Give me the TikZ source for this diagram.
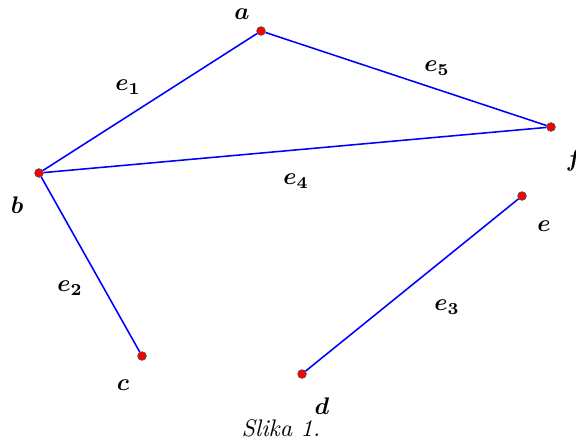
\documentclass[tikz,border=0pt]{standalone}
\begin{document}
\begin{tikzpicture}[x=0.4167pt,y=-0.4167pt,
  vtx/.style={circle,fill=red,draw=black!70,line width=0.3pt,inner sep=0pt,minimum size=3.6pt},
  edge/.style={draw=blue,line width=0.65pt},
  lbl/.style={font=\boldmath,inner sep=0pt}]
\useasboundingbox (0,0) rectangle (576,441);
\node[vtx] (a) at (261,31) {};
\node[vtx] (b) at (39,173) {};
\node[vtx] (c) at (142,356) {};
\node[vtx] (d) at (302,374) {};
\node[vtx] (e) at (522,196) {};
\node[vtx] (f) at (551,127) {};
\draw[edge] (b) -- (a);
\draw[edge] (a) -- (f);
\draw[edge] (b) -- (f);
\draw[edge] (b) -- (c);
\draw[edge] (d) -- (e);
\node[lbl] (la) at (242,14) {$a$};
\node[lbl] (lb) at (17,205) {$b$};
\node[lbl] (lc) at (123,385) {$c$};
\node[lbl] (ld) at (322,406) {$d$};
\node[lbl] (le) at (544,226) {$e$};
\node[lbl] (lf) at (574,160) {$f$};
\node[lbl] (le1) at (128,87) {$e_1$};
\node[lbl] (le2) at (70,288) {$e_2$};
\node[lbl] (le3) at (447,307) {$e_3$};
\node[lbl] (le4) at (296,181) {$e_4$};
\node[lbl] (le5) at (437,68) {$e_5$};
\node[inner sep=0pt] (cap) at (281,428) {\itshape Slika 1.};
\end{tikzpicture}
\end{document}
